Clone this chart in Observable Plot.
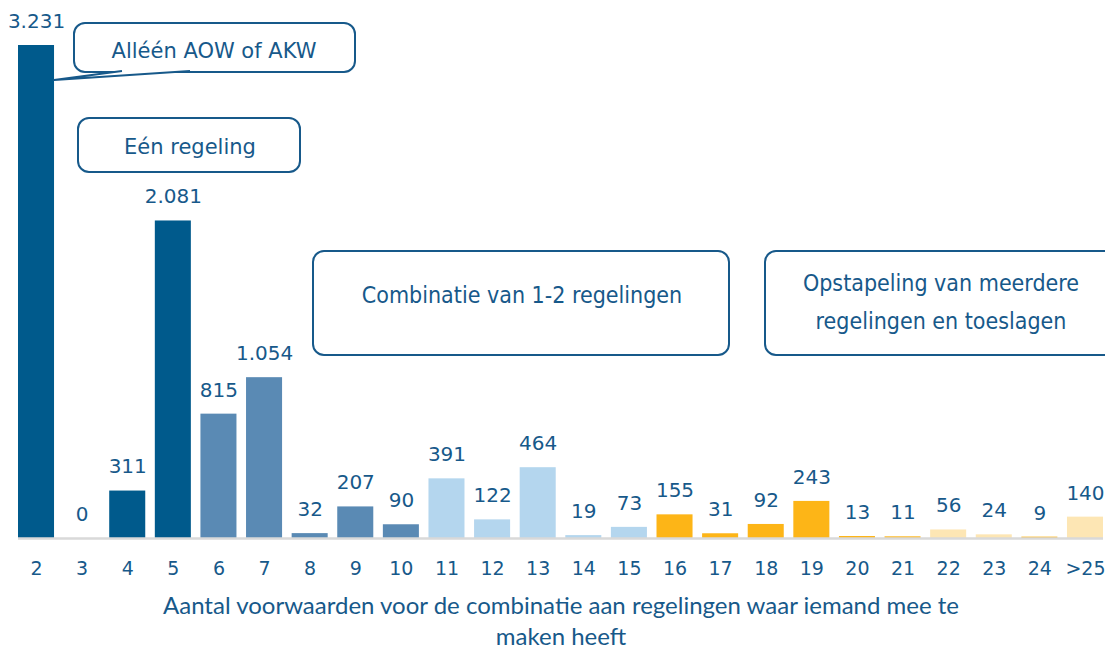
<!DOCTYPE html>
<html>
<head>
<meta charset="utf-8">
<script src="https://cdn.jsdelivr.net/npm/d3@7"></script>
<script src="https://cdn.jsdelivr.net/npm/@observablehq/plot@0.6"></script>
<style>
  html, body { margin: 0; padding: 0; background: #fff; }
  #chart { width: 1105px; height: 651px; overflow: hidden; }
</style>
</head>
<body>
<div id="chart"></div>
<script>
// ---- data ----
const categories = ["2","3","4","5","6","7","8","9","10","11","12","13","14","15","16","17","18","19","20","21","22","23","24",">25"];
const values = [3231,0,311,2081,815,1054,32,207,90,391,122,464,19,73,155,31,92,243,13,11,56,24,9,140];
const groups = ["g1","g1","g1","g1","g2","g2","g2","g2","g2","g3","g3","g3","g3","g3","g4","g4","g4","g4","g4","g4","g5","g5","g4","g5"];
const groupNames = ["g1","g2","g3","g4","g5"];
const groupColors = ["#005a8c","#5a8ab4","#b4d6ee","#fdb517","#fde6b4"];
const xTitle = "Aantal voorwaarden voor de combinatie aan regelingen waar iemand mee te\nmaken heeft";

const annotations = [
  {text: "Alléén AOW of AKW", x: 74, y: 23, w: 281, h: 49, tx: 214, ty: 51, size: 21, condensed: false, callout: true},
  {text: "Eén regeling", x: 78, y: 118, w: 222, h: 54, tx: 190, ty: 147, size: 21, condensed: false},
  {text: "Combinatie van 1-2 regelingen", x: 313, y: 251, w: 416, h: 104, tx: 522, ty: 295, size: 23, condensed: true},
  {text: "Opstapeling van meerdere\nregelingen en toeslagen", x: 765, y: 251, w: 350, h: 104, tx: 941, ty: 283, size: 23, condensed: true}
];

const data = categories.map((c, i) => ({cat: c, value: values[i], group: groups[i]}));
const nl = d3.formatLocale({decimal: ",", thousands: ".", grouping: [3], currency: ["€", ""]});
const fmt = nl.format(",d");
const textColor = "#17598a";

const plot = Plot.plot({
  width: 1105,
  height: 651,
  marginTop: 45,
  marginBottom: 113,
  marginLeft: 18,
  marginRight: 2,
  style: {fontFamily: "'DejaVu Sans', Verdana, sans-serif", background: "#fff"},
  x: {domain: categories, paddingInner: 0.21, paddingOuter: 0, round: false, label: null},
  y: {domain: [0, 3231], axis: null},
  color: {domain: groupNames, range: groupColors},
  marks: [
    Plot.barY(data, {x: "cat", y: "value", fill: "group"}),
    Plot.ruleY([0], {stroke: "#d9d9d9", strokeWidth: 2.5}),
    Plot.text(data, {x: "cat", y: "value", text: d => fmt(d.value), dy: -24, fontSize: 20, fill: textColor}),
    Plot.axisX({tickSize: 0, tickPadding: 23, fontSize: 19, color: textColor, label: null}),
    Plot.text([xTitle], {frameAnchor: "bottom", dy: 81, lineAnchor: "middle", lineHeight: 1.3, fontSize: 24, fill: textColor, fontFamily: "Lato, sans-serif"})
  ]
});
document.getElementById("chart").appendChild(plot);

// ---- annotation boxes ----
const svg = d3.select(plot);
const xs = plot.scale("x");
const ys = plot.scale("y");
const g = svg.append("g");
annotations.forEach(a => {
  g.append("rect")
    .attr("x", a.x).attr("y", a.y).attr("width", a.w).attr("height", a.h)
    .attr("rx", 11).attr("ry", 11)
    .attr("fill", "#fff").attr("stroke", textColor).attr("stroke-width", 2);
  if (a.callout) {
    const tipX = xs.apply(categories[0]) + xs.bandwidth;
    const tipY = ys.apply(values[0]) + 35;
    g.append("path")
      .attr("d", `M${a.x + 116},${a.y + a.h - 1} L${tipX},${tipY} L${a.x + 48},${a.y + a.h - 1}`)
      .attr("fill", "#fff").attr("stroke", textColor).attr("stroke-width", 2).attr("stroke-linejoin", "round");
  }
  const lines = a.text.split("\n");
  const t = g.append("text")
    .attr("text-anchor", "middle")
    .attr("fill", textColor)
    .attr("font-size", a.size)
    .attr("font-family", a.condensed ? "'DejaVu Sans Condensed', 'DejaVu Sans', sans-serif" : "'DejaVu Sans', sans-serif");
  lines.forEach((l, i) => {
    t.append("tspan").attr("x", a.tx).attr("y", a.ty + i * 38).attr("dy", "0.35em").text(l);
  });
});
</script>
</body>
</html>
